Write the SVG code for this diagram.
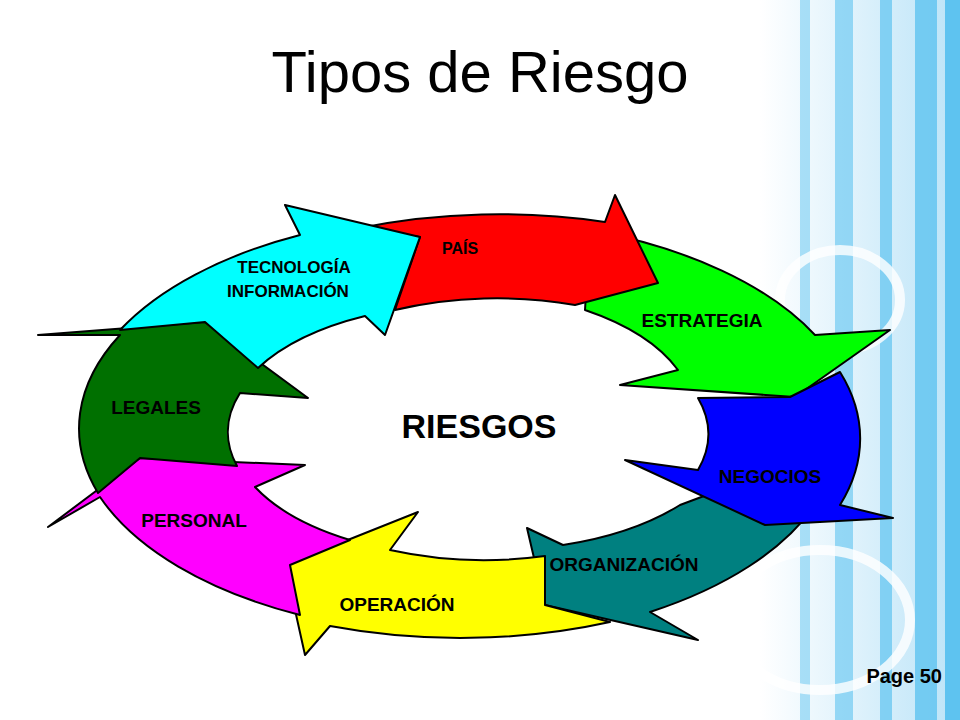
<svg xmlns="http://www.w3.org/2000/svg" width="960" height="720" viewBox="0 0 960 720">
<style>
.s{stroke:#000;stroke-width:2;stroke-linejoin:round}
.l{font-family:"Liberation Sans",Arial,sans-serif;font-weight:bold;fill:#000;text-anchor:middle}
.st{fill:#5ec3f0}
</style>
<defs>
<linearGradient id="g" x1="0" x2="1"><stop offset="0" stop-color="#fff"/><stop offset="1" stop-color="#3bb0ea"/></linearGradient>
</defs>
<rect width="960" height="720" fill="#fff"/>
<g id="bg">
<rect x="760" y="0" width="200" height="720" fill="url(#g)" opacity="0.35"/>
<rect class="st" x="800" y="0" width="10" height="720" opacity="0.5"/>
<rect class="st" x="835" y="0" width="18" height="720" opacity="0.6"/>
<rect class="st" x="880" y="0" width="12" height="720" opacity="0.7"/>
<rect class="st" x="915" y="0" width="22" height="720" opacity="0.8"/>
<rect class="st" x="945" y="0" width="15" height="720"/>
<ellipse cx="840" cy="300" rx="60" ry="50" fill="none" stroke="#fff" stroke-width="10" opacity="0.8"/>
<ellipse cx="820" cy="620" rx="90" ry="70" fill="none" stroke="#fff" stroke-width="10" opacity="0.8"/>
</g>
<text x="480" y="92" font-family="'Liberation Sans',Arial,sans-serif" font-size="58" text-anchor="middle" fill="#000">Tipos de Riesgo</text>
<g id="connectors">
<path id="green" class="s" fill="#00ff00" d="M590,230 A392,210 0 0 1 815,335 L890,330 L795,397 L620,385 L678,370 A241,125 0 0 0 585,310 Z"/>
<path id="red" class="s" fill="#ff0000" d="M360,228 A392,210 0 0 1 605,222 L615,195 L658,283 L575,305 A241,125 0 0 0 395,310 L420,237 Z"/>
<path id="teal" class="s" fill="#008080" d="M720,490 L815,505 A392,210 0 0 1 650,612 L698,640 L545,605 L527,528 L563,545 A241,125 0 0 0 680,505 Z"/>
<path id="blue" class="s" fill="#0000ff" d="M790,397 L840,372 A392,210 0 0 1 840,505 L893,518 L765,525 L625,460 L698,470 A241,125 0 0 0 698,398 Z"/>
<path id="yellow" class="s" fill="#ffff00" d="M545,556 L545,605 L610,622 A392,210 0 0 1 330,626 L305,655 L285,565 L418,512 L390,550 A241,125 0 0 0 545,556 Z"/>
<path id="magenta" class="s" fill="#ff00ff" d="M300,615 A392,210 0 0 1 100,497 L48,527 L140,458 L305,465 L255,487 A241,125 0 0 0 350,540 L290,565 Z"/>
<path id="dkgreen" class="s" fill="#007000" d="M98,493 A392,210 0 0 1 120,335 L38,335 L205,322 L308,398 L240,393 A241,125 0 0 0 237,466 L140,458 Z"/>
<path id="cyan" class="s" fill="#00ffff" d="M120,330 A392,210 0 0 1 300,235 L285,205 L420,237 L385,335 L365,316 A241,125 0 0 0 258,368 L205,322 Z"/>
</g>
<g id="n1"><text class="l" x="460" y="254" style="font-size:16px">PAÍS</text></g>
<g id="n2"><text class="l" x="294" y="273" style="font-size:17px">TECNOLOGÍA</text><text class="l" x="288" y="297" style="font-size:17px">INFORMACIÓN</text></g>
<g id="n3"><text class="l" x="702" y="327" style="font-size:19px">ESTRATEGIA</text></g>
<g id="n4"><text class="l" x="156" y="414" style="font-size:19px">LEGALES</text></g>
<g id="n5"><text class="l" x="479" y="438" style="font-size:34px">RIESGOS</text></g>
<g id="n6"><text class="l" x="770" y="483" style="font-size:19px">NEGOCIOS</text></g>
<g id="n7"><text class="l" x="194" y="527" style="font-size:19px">PERSONAL</text></g>
<g id="n8"><text class="l" x="624" y="571" style="font-size:19px">ORGANIZACIÓN</text></g>
<g id="n9"><text class="l" x="397" y="611" style="font-size:19px">OPERACIÓN</text></g>
<text x="942" y="683" font-family="'Liberation Sans',Arial,sans-serif" font-weight="bold" font-size="20" text-anchor="end">Page 50</text>
</svg>
